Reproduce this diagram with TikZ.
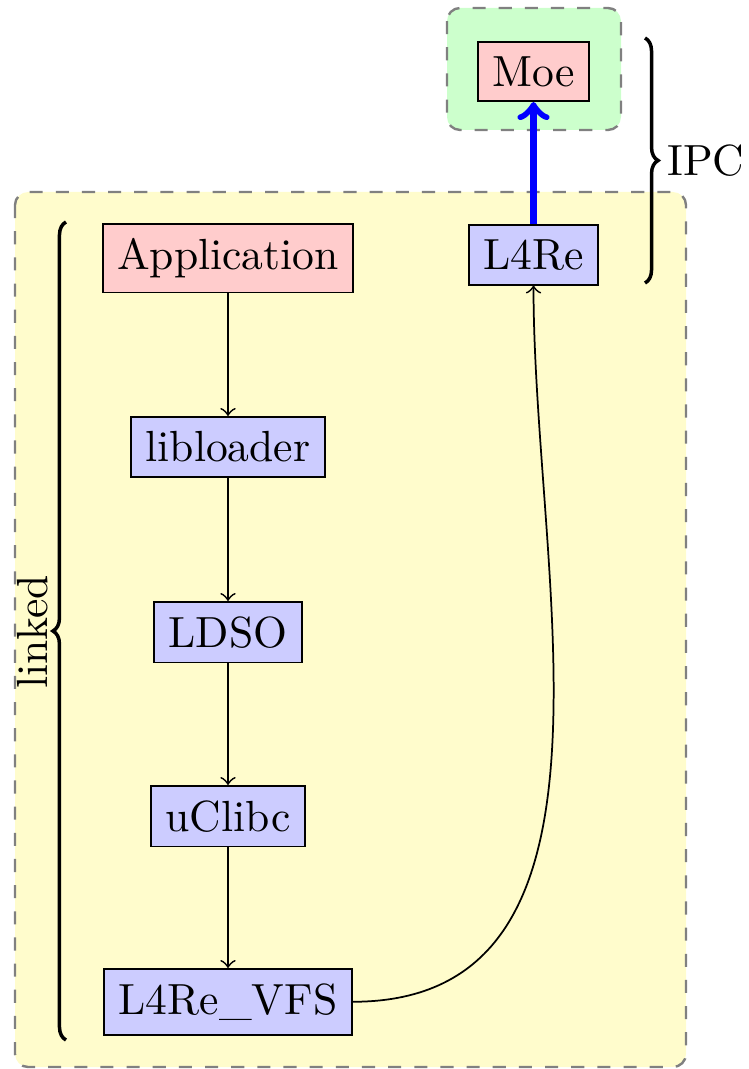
\documentclass[tikz,border=0pt]{standalone}
\usetikzlibrary{decorations.pathreplacing}
\begin{document}
\begin{tikzpicture}[x=0.2294pt,y=-0.2294pt,
  box/.style={draw, rectangle, inner sep=3.33pt, anchor=north},
  appbox/.style={box, fill=red!20},
  libbox/.style={box, fill=blue!20},
  area/.style={draw=gray, dashed, line width=0.55pt, rounded corners=3pt},
  link/.style={->},
  ipc/.style={->, blue, ultra thick},
  bracedeco/.style={decorate, decoration={brace, amplitude=3pt}, thick}]
\useasboundingbox (0,0) rectangle (748,1069);
\path[area, fill=yellow!20] (15,192) rectangle (686,1067);
\path[area, fill=green!20] (447,8) rectangle (621,130);
\node[appbox] (app) at (228,223) {Application};
\node[libbox] (libloader) at (228,416) {libloader};
\node[libbox] (ldso) at (228,601) {LDSO};
\node[libbox] (uclibc) at (228,785) {uClibc};
\node[libbox] (vfs) at (228,968) {L4Re\_VFS};
\node[libbox] (l4re) at (533.5,224) {L4Re};
\node[appbox] (moe) at (533.5,41) {Moe};
\draw[link] (app) -- (libloader);
\draw[link] (libloader) -- (ldso);
\draw[link] (ldso) -- (uclibc);
\draw[link] (uclibc) -- (vfs);
\draw[link] (vfs.east) .. controls +(290,0) and +(0,290) .. (l4re.south);
\draw[ipc] (l4re.north) -- (moe.south);
\coordinate (lb) at (66,1040);
\coordinate (lt) at (66,222);
\draw[bracedeco] (lb) -- (lt);
\node[rotate=90] (linked) at (33,632) {linked};
\coordinate (it) at (645,38);
\coordinate (ib) at (645,283);
\draw[bracedeco] (it) -- (ib);
\node[anchor=west] (ipclabel) at (652,161) {IPC};
\end{tikzpicture}
\end{document}
